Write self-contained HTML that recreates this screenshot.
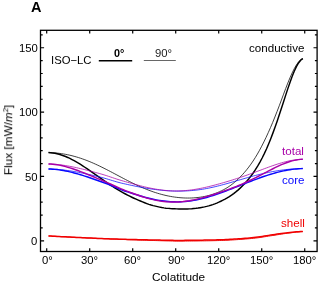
<!DOCTYPE html>
<html><head><meta charset="utf-8"><title>A</title>
<style>
html,body{margin:0;padding:0;background:#fff;}
body{width:327px;height:285px;position:relative;overflow:hidden;font-family:"Liberation Sans",sans-serif;}
.t{will-change:transform;position:absolute;white-space:nowrap;line-height:1;font-family:"Liberation Sans",sans-serif;}
</style></head><body>
<svg width="327" height="285" viewBox="0 0 327 285" style="position:absolute;left:0;top:0"><g fill="none" stroke-linejoin="round" stroke-linecap="butt"><path d="M48.50 152.59 L50.64 152.65 L52.77 152.76 L54.91 152.91 L57.05 153.10 L59.18 153.34 L61.32 153.63 L63.46 153.96 L65.60 154.34 L67.73 154.76 L69.87 155.23 L72.01 155.74 L74.14 156.30 L76.28 156.90 L78.42 157.55 L80.55 158.24 L82.69 158.97 L84.83 159.74 L86.97 160.55 L89.10 161.40 L91.24 162.29 L93.38 163.21 L95.51 164.16 L97.65 165.15 L99.79 166.17 L101.92 167.21 L104.06 168.27 L106.20 169.36 L108.34 170.46 L110.47 171.57 L112.61 172.70 L114.75 173.83 L116.88 174.96 L119.02 176.10 L121.16 177.23 L123.29 178.36 L125.43 179.47 L127.57 180.57 L129.71 181.66 L131.84 182.73 L133.98 183.77 L136.12 184.79 L138.25 185.79 L140.39 186.75 L142.53 187.68 L144.66 188.58 L146.80 189.45 L148.94 190.28 L151.07 191.07 L153.21 191.83 L155.35 192.54 L157.49 193.22 L159.62 193.85 L161.76 194.44 L163.90 194.99 L166.03 195.50 L168.17 195.96 L170.31 196.37 L172.44 196.75 L174.58 197.07 L176.72 197.35 L178.86 197.59 L180.99 197.78 L183.13 197.92 L185.27 198.01 L187.40 198.05 L189.54 198.04 L191.68 197.98 L193.81 197.86 L195.95 197.70 L198.09 197.47 L200.23 197.19 L202.36 196.86 L204.50 196.46 L206.64 195.99 L208.77 195.46 L210.91 194.87 L213.05 194.20 L215.18 193.45 L217.32 192.63 L219.46 191.72 L221.59 190.73 L223.73 189.64 L225.87 188.46 L227.97 187.17 L230.04 185.78 L232.10 184.27 L234.14 182.64 L236.18 180.87 L238.23 178.97 L240.30 176.92 L242.38 174.72 L244.50 172.34 L246.64 169.80 L248.78 167.07 L250.93 164.14 L253.08 161.01 L255.23 157.66 L257.39 154.08 L259.54 150.28 L261.70 146.23 L263.87 141.94 L266.06 137.41 L268.26 132.64 L270.47 127.64 L272.69 122.41 L274.89 117.00 L277.09 111.42 L279.27 105.72 L281.43 99.96 L283.57 94.20 L285.70 88.53 L287.84 83.03 L289.98 77.81 L292.12 72.99 L294.25 68.66 L296.39 64.95 L298.53 61.97 L300.66 59.79 L302.80 58.50" stroke="#000" stroke-width="0.75"/><path d="M48.50 152.57 L50.64 152.71 L52.77 152.96 L54.91 153.31 L57.05 153.76 L59.18 154.31 L61.32 154.96 L63.46 155.71 L65.60 156.54 L67.73 157.46 L69.87 158.46 L72.01 159.53 L74.14 160.68 L76.28 161.89 L78.42 163.16 L80.55 164.48 L82.69 165.85 L84.83 167.26 L86.97 168.70 L89.10 170.17 L91.24 171.66 L93.38 173.16 L95.51 174.68 L97.65 176.19 L99.79 177.70 L101.92 179.20 L104.06 180.69 L106.20 182.16 L108.34 183.61 L110.47 185.03 L112.61 186.42 L114.75 187.78 L116.88 189.11 L119.02 190.39 L121.16 191.64 L123.29 192.85 L125.43 194.01 L127.57 195.13 L129.71 196.21 L131.84 197.24 L133.98 198.23 L136.12 199.17 L138.25 200.11 L140.39 201.03 L142.53 201.93 L144.66 202.78 L146.80 203.58 L148.94 204.33 L151.07 204.99 L153.21 205.59 L155.35 206.13 L157.49 206.63 L159.62 207.09 L161.76 207.52 L163.90 207.88 L166.03 208.17 L168.17 208.40 L170.31 208.58 L172.44 208.71 L174.58 208.81 L176.72 208.89 L178.86 208.95 L180.99 209.01 L183.13 209.03 L185.27 209.01 L187.40 208.95 L189.54 208.85 L191.68 208.71 L193.81 208.52 L195.95 208.29 L198.09 208.01 L200.23 207.68 L202.36 207.31 L204.50 206.88 L206.62 206.40 L208.70 205.86 L210.74 205.26 L212.76 204.59 L214.77 203.87 L216.78 203.07 L218.81 202.20 L220.86 201.24 L222.94 200.21 L225.07 199.09 L227.21 197.87 L229.36 196.55 L231.51 195.12 L233.67 193.57 L235.83 191.90 L237.99 190.09 L240.16 188.14 L242.33 186.04 L244.50 183.76 L246.70 181.31 L248.92 178.67 L251.15 175.82 L253.38 172.75 L255.58 169.45 L257.77 165.90 L259.95 162.09 L262.14 158.00 L264.31 153.62 L266.47 148.95 L268.61 143.97 L270.75 138.69 L272.88 133.12 L275.02 127.26 L277.16 121.14 L279.29 114.80 L281.43 108.30 L283.57 101.71 L285.70 95.12 L287.84 88.64 L289.98 82.40 L292.12 76.56 L294.25 71.26 L296.39 66.67 L298.53 62.94 L300.66 60.20 L302.80 58.57" stroke="#000" stroke-width="1.45"/><path d="M48.50 169.01 L50.64 169.06 L52.77 169.14 L54.91 169.24 L57.05 169.38 L59.18 169.56 L61.32 169.76 L63.46 169.99 L65.60 170.25 L67.73 170.53 L69.87 170.84 L72.01 171.17 L74.14 171.53 L76.28 171.91 L78.42 172.30 L80.55 172.72 L82.69 173.15 L84.83 173.59 L86.97 174.05 L89.10 174.52 L91.24 174.99 L93.38 175.48 L95.51 175.97 L97.65 176.47 L99.79 176.98 L101.92 177.51 L104.06 178.08 L106.20 178.70 L108.34 179.34 L110.47 179.99 L112.61 180.65 L114.75 181.29 L116.88 181.92 L119.02 182.50 L121.16 183.05 L123.29 183.55 L125.43 184.03 L127.57 184.51 L129.71 184.97 L131.84 185.43 L133.98 185.88 L136.12 186.32 L138.25 186.74 L140.39 187.16 L142.53 187.56 L144.66 187.94 L146.80 188.30 L148.94 188.64 L151.07 188.96 L153.21 189.26 L155.35 189.54 L157.49 189.80 L159.62 190.04 L161.76 190.26 L163.90 190.47 L166.03 190.65 L168.17 190.80 L170.31 190.92 L172.44 191.02 L174.58 191.08 L176.72 191.11 L178.86 191.12 L180.99 191.09 L183.13 191.04 L185.27 190.96 L187.40 190.86 L189.54 190.73 L191.68 190.57 L193.81 190.38 L195.95 190.15 L198.09 189.89 L200.23 189.59 L202.36 189.27 L204.50 188.91 L206.64 188.52 L208.77 188.10 L210.91 187.65 L213.05 187.18 L215.18 186.69 L217.32 186.17 L219.46 185.63 L221.59 185.07 L223.73 184.49 L225.87 183.91 L228.01 183.30 L230.14 182.69 L232.28 182.07 L234.42 181.45 L236.55 180.82 L238.69 180.20 L240.83 179.57 L242.96 178.95 L245.10 178.33 L247.24 177.72 L249.38 177.11 L251.51 176.52 L253.65 175.95 L255.79 175.38 L257.92 174.83 L260.06 174.30 L262.20 173.79 L264.33 173.30 L266.47 172.82 L268.61 172.37 L270.75 171.94 L272.88 171.54 L275.02 171.16 L277.16 170.80 L279.29 170.47 L281.43 170.16 L283.57 169.88 L285.70 169.63 L287.84 169.40 L289.98 169.20 L292.12 169.02 L294.25 168.88 L296.39 168.76 L298.53 168.66 L300.66 168.60 L302.80 168.56" stroke="#0808ff" stroke-width="0.75"/><path d="M48.50 169.01 L50.64 169.08 L52.77 169.20 L54.91 169.37 L57.05 169.59 L59.18 169.86 L61.32 170.18 L63.46 170.54 L65.60 170.94 L67.73 171.38 L69.87 171.87 L72.01 172.39 L74.14 172.94 L76.28 173.52 L78.42 174.13 L80.55 174.77 L82.69 175.43 L84.83 176.11 L86.97 176.81 L89.10 177.52 L91.24 178.25 L93.38 178.99 L95.51 179.74 L97.65 180.49 L99.79 181.25 L101.92 182.01 L104.06 182.78 L106.20 183.56 L108.34 184.38 L110.47 185.24 L112.61 186.13 L114.75 187.03 L116.88 187.93 L119.02 188.81 L121.16 189.66 L123.29 190.46 L125.43 191.20 L127.57 191.92 L129.71 192.62 L131.84 193.31 L133.98 193.99 L136.12 194.66 L138.25 195.31 L140.39 195.94 L142.53 196.55 L144.66 197.14 L146.80 197.71 L148.94 198.25 L151.07 198.76 L153.21 199.24 L155.35 199.68 L157.49 200.09 L159.62 200.45 L161.76 200.77 L163.90 201.05 L166.03 201.29 L168.17 201.49 L170.31 201.65 L172.44 201.76 L174.58 201.83 L176.72 201.86 L178.86 201.84 L180.99 201.77 L183.13 201.65 L185.27 201.49 L187.40 201.28 L189.54 201.02 L191.68 200.71 L193.81 200.36 L195.95 199.97 L198.09 199.54 L200.23 199.07 L202.36 198.56 L204.50 198.01 L206.64 197.43 L208.77 196.82 L210.91 196.17 L213.05 195.49 L215.18 194.79 L217.32 194.06 L219.46 193.31 L221.59 192.54 L223.73 191.76 L225.87 190.96 L228.01 190.15 L230.14 189.34 L232.28 188.51 L234.42 187.68 L236.55 186.84 L238.69 186.00 L240.83 185.16 L242.96 184.31 L245.10 183.47 L247.24 182.63 L249.38 181.80 L251.51 180.97 L253.65 180.16 L255.79 179.35 L257.92 178.56 L260.06 177.78 L262.20 177.02 L264.33 176.29 L266.47 175.57 L268.61 174.88 L270.75 174.21 L272.88 173.57 L275.02 172.96 L277.16 172.38 L279.29 171.84 L281.43 171.33 L283.57 170.86 L285.70 170.43 L287.84 170.04 L289.98 169.69 L292.12 169.38 L294.25 169.13 L296.39 168.91 L298.53 168.75 L300.66 168.63 L302.80 168.57" stroke="#0808ff" stroke-width="1.45"/><path d="M48.50 164.00 L50.64 164.05 L52.77 164.15 L54.91 164.29 L57.05 164.48 L59.18 164.70 L61.32 164.95 L63.46 165.25 L65.60 165.58 L67.73 165.94 L69.87 166.32 L72.01 166.74 L74.14 167.18 L76.28 167.64 L78.42 168.13 L80.55 168.63 L82.69 169.14 L84.83 169.67 L86.97 170.21 L89.10 170.76 L91.24 171.32 L93.38 171.89 L95.51 172.46 L97.65 173.04 L99.79 173.63 L101.92 174.23 L104.06 174.88 L106.20 175.56 L108.34 176.26 L110.47 176.97 L112.61 177.69 L114.75 178.41 L116.88 179.12 L119.02 179.80 L121.16 180.45 L123.29 181.07 L125.43 181.68 L127.57 182.29 L129.71 182.89 L131.84 183.49 L133.98 184.09 L136.12 184.67 L138.25 185.24 L140.39 185.81 L142.53 186.35 L144.66 186.87 L146.80 187.36 L148.94 187.83 L151.07 188.27 L153.21 188.68 L155.35 189.06 L157.49 189.41 L159.62 189.73 L161.76 190.01 L163.90 190.27 L166.03 190.50 L168.17 190.68 L170.31 190.82 L172.44 190.92 L174.58 190.97 L176.72 190.98 L178.86 190.94 L180.99 190.86 L183.13 190.74 L185.27 190.58 L187.40 190.38 L189.54 190.15 L191.68 189.88 L193.81 189.57 L195.95 189.23 L198.09 188.86 L200.23 188.45 L202.36 188.02 L204.50 187.56 L206.64 187.08 L208.77 186.58 L210.91 186.06 L213.05 185.52 L215.18 184.96 L217.32 184.39 L219.46 183.80 L221.59 183.20 L223.73 182.59 L225.87 181.96 L228.01 181.32 L230.14 180.67 L232.28 180.01 L234.42 179.34 L236.55 178.65 L238.69 177.95 L240.83 177.24 L242.96 176.51 L245.10 175.77 L247.24 175.02 L249.38 174.26 L251.51 173.49 L253.65 172.71 L255.79 171.92 L257.92 171.13 L260.06 170.33 L262.20 169.53 L264.33 168.73 L266.47 167.94 L268.61 167.16 L270.75 166.39 L272.88 165.63 L275.02 164.90 L277.16 164.19 L279.29 163.51 L281.43 162.87 L283.57 162.27 L285.70 161.70 L287.84 161.19 L289.98 160.73 L292.12 160.32 L294.25 159.97 L296.39 159.68 L298.53 159.45 L300.66 159.29 L302.80 159.20" stroke="#a800a8" stroke-width="0.75"/><path d="M48.50 163.98 L50.64 164.07 L52.77 164.24 L54.91 164.48 L57.05 164.78 L59.18 165.14 L61.32 165.57 L63.46 166.06 L65.60 166.60 L67.73 167.20 L69.87 167.84 L72.01 168.52 L74.14 169.24 L76.28 170.00 L78.42 170.78 L80.55 171.60 L82.69 172.43 L84.83 173.28 L86.97 174.14 L89.10 175.01 L91.24 175.90 L93.38 176.78 L95.51 177.67 L97.65 178.56 L99.79 179.45 L101.92 180.34 L104.06 181.23 L106.20 182.11 L108.34 183.04 L110.47 184.00 L112.61 184.98 L114.75 185.97 L116.88 186.95 L119.02 187.92 L121.16 188.86 L123.29 189.75 L125.43 190.60 L127.57 191.42 L129.71 192.22 L131.84 193.02 L133.98 193.79 L136.12 194.55 L138.25 195.29 L140.39 196.01 L142.53 196.71 L144.66 197.38 L146.80 198.01 L148.94 198.60 L151.07 199.15 L153.21 199.66 L155.35 200.12 L157.49 200.53 L159.62 200.89 L161.76 201.21 L163.90 201.47 L166.03 201.69 L168.17 201.86 L170.31 201.99 L172.44 202.06 L174.58 202.07 L176.72 202.03 L178.86 201.93 L180.99 201.78 L183.13 201.58 L185.27 201.32 L187.40 201.02 L189.54 200.68 L191.68 200.29 L193.81 199.86 L195.95 199.40 L198.09 198.90 L200.23 198.38 L202.36 197.83 L204.50 197.25 L206.64 196.65 L208.77 196.03 L210.91 195.38 L213.05 194.72 L215.18 194.05 L217.32 193.35 L219.46 192.65 L221.59 191.92 L223.73 191.18 L225.87 190.43 L228.01 189.65 L230.14 188.86 L232.28 188.05 L234.42 187.22 L236.55 186.37 L238.69 185.50 L240.83 184.60 L242.96 183.67 L245.10 182.72 L247.24 181.75 L249.38 180.74 L251.51 179.72 L253.65 178.67 L255.79 177.60 L257.92 176.51 L260.06 175.41 L262.20 174.30 L264.33 173.18 L266.47 172.06 L268.61 170.94 L270.75 169.83 L272.88 168.74 L275.02 167.68 L277.16 166.65 L279.29 165.65 L281.43 164.70 L283.57 163.81 L285.70 162.97 L287.84 162.21 L289.98 161.52 L292.12 160.91 L294.25 160.38 L296.39 159.95 L298.53 159.61 L300.66 159.36 L302.80 159.22" stroke="#a800a8" stroke-width="1.45"/><path d="M48.50 235.91 L50.64 236.04 L52.77 236.16 L54.91 236.28 L57.05 236.40 L59.18 236.52 L61.32 236.64 L63.46 236.75 L65.60 236.86 L67.73 236.97 L69.87 237.08 L72.01 237.19 L74.14 237.30 L76.28 237.41 L78.42 237.51 L80.55 237.62 L82.69 237.72 L84.83 237.82 L86.97 237.91 L89.10 238.01 L91.24 238.10 L93.38 238.20 L95.51 238.29 L97.65 238.38 L99.79 238.47 L101.92 238.56 L104.06 238.65 L106.20 238.75 L108.34 238.84 L110.47 238.94 L112.61 239.03 L114.75 239.13 L116.88 239.22 L119.02 239.31 L121.16 239.40 L123.29 239.49 L125.43 239.57 L127.57 239.65 L129.71 239.74 L131.84 239.82 L133.98 239.89 L136.12 239.97 L138.25 240.04 L140.39 240.11 L142.53 240.18 L144.66 240.25 L146.80 240.31 L148.94 240.37 L151.07 240.43 L153.21 240.49 L155.35 240.56 L157.49 240.62 L159.62 240.69 L161.76 240.76 L163.90 240.82 L166.03 240.88 L168.17 240.93 L170.31 240.98 L172.44 241.02 L174.58 241.05 L176.72 241.08 L178.86 241.09 L180.99 241.09 L183.13 241.09 L185.27 241.08 L187.40 241.07 L189.54 241.06 L191.68 241.04 L193.81 241.01 L195.95 240.99 L198.09 240.96 L200.23 240.92 L202.36 240.89 L204.50 240.86 L206.64 240.82 L208.77 240.79 L210.91 240.74 L213.05 240.70 L215.18 240.65 L217.32 240.59 L219.46 240.53 L221.59 240.47 L223.73 240.39 L225.87 240.32 L228.01 240.22 L230.14 240.10 L232.28 239.97 L234.42 239.83 L236.55 239.68 L238.69 239.53 L240.83 239.38 L242.96 239.22 L245.10 239.06 L247.24 238.88 L249.38 238.70 L251.51 238.50 L253.65 238.29 L255.79 238.06 L257.92 237.79 L260.06 237.49 L262.20 237.16 L264.33 236.82 L266.47 236.47 L268.61 236.13 L270.75 235.80 L272.88 235.48 L275.02 235.15 L277.16 234.81 L279.29 234.46 L281.43 234.12 L283.57 233.78 L285.70 233.47 L287.84 233.17 L289.98 232.91 L292.12 232.65 L294.25 232.40 L296.39 232.16 L298.53 231.93 L300.66 231.71 L302.80 231.51" stroke="#f00000" stroke-width="0.9"/><path d="M48.50 235.91 L50.64 236.04 L52.77 236.16 L54.91 236.28 L57.05 236.40 L59.18 236.52 L61.32 236.64 L63.46 236.75 L65.60 236.86 L67.73 236.97 L69.87 237.08 L72.01 237.19 L74.14 237.30 L76.28 237.41 L78.42 237.51 L80.55 237.62 L82.69 237.72 L84.83 237.82 L86.97 237.91 L89.10 238.01 L91.24 238.10 L93.38 238.20 L95.51 238.29 L97.65 238.38 L99.79 238.47 L101.92 238.56 L104.06 238.65 L106.20 238.73 L108.34 238.81 L110.47 238.89 L112.61 238.97 L114.75 239.04 L116.88 239.11 L119.02 239.18 L121.16 239.24 L123.29 239.30 L125.43 239.36 L127.57 239.41 L129.71 239.46 L131.84 239.51 L133.98 239.56 L136.12 239.61 L138.25 239.66 L140.39 239.70 L142.53 239.75 L144.66 239.79 L146.80 239.84 L148.94 239.88 L151.07 239.92 L153.21 239.97 L155.35 240.02 L157.49 240.07 L159.62 240.12 L161.76 240.17 L163.90 240.22 L166.03 240.27 L168.17 240.31 L170.31 240.34 L172.44 240.37 L174.58 240.39 L176.72 240.40 L178.86 240.40 L180.99 240.39 L183.13 240.38 L185.27 240.37 L187.40 240.35 L189.54 240.32 L191.68 240.30 L193.81 240.27 L195.95 240.24 L198.09 240.21 L200.23 240.17 L202.36 240.14 L204.50 240.11 L206.64 240.07 L208.77 240.04 L210.91 239.99 L213.05 239.95 L215.18 239.90 L217.32 239.84 L219.46 239.78 L221.59 239.72 L223.73 239.64 L225.87 239.57 L228.01 239.47 L230.14 239.35 L232.28 239.22 L234.42 239.08 L236.55 238.93 L238.69 238.78 L240.83 238.63 L242.96 238.47 L245.10 238.31 L247.24 238.13 L249.38 237.95 L251.51 237.75 L253.65 237.54 L255.79 237.31 L257.92 237.04 L260.06 236.74 L262.20 236.41 L264.33 236.07 L266.47 235.72 L268.61 235.38 L270.75 235.05 L272.88 234.74 L275.02 234.43 L277.16 234.11 L279.29 233.80 L281.43 233.49 L283.57 233.20 L285.70 232.93 L287.84 232.68 L289.98 232.46 L292.12 232.25 L294.25 232.05 L296.39 231.86 L298.53 231.69 L300.66 231.54 L302.80 231.40" stroke="#f00000" stroke-width="1.5"/></g><rect x="40.5" y="30.3" width="276.6" height="221.2" fill="none" stroke="#000" stroke-width="1.3"/><path d="M46.70 251.5 v-3.2 M46.70 30.3 v3.2 M89.71 251.5 v-3.2 M89.71 30.3 v3.2 M132.71 251.5 v-3.2 M132.71 30.3 v3.2 M175.71 251.5 v-3.2 M175.71 30.3 v3.2 M218.72 251.5 v-3.2 M218.72 30.3 v3.2 M261.73 251.5 v-3.2 M261.73 30.3 v3.2 M304.73 251.5 v-3.2 M304.73 30.3 v3.2 M40.5 240.80 h3.6 M317.1 240.80 h-3.6 M40.5 227.93 h2.2 M317.1 227.93 h-2.2 M40.5 215.06 h2.2 M317.1 215.06 h-2.2 M40.5 202.19 h2.2 M317.1 202.19 h-2.2 M40.5 189.32 h2.2 M317.1 189.32 h-2.2 M40.5 176.45 h3.6 M317.1 176.45 h-3.6 M40.5 163.58 h2.2 M317.1 163.58 h-2.2 M40.5 150.71 h2.2 M317.1 150.71 h-2.2 M40.5 137.84 h2.2 M317.1 137.84 h-2.2 M40.5 124.97 h2.2 M317.1 124.97 h-2.2 M40.5 112.10 h3.6 M317.1 112.10 h-3.6 M40.5 99.23 h2.2 M317.1 99.23 h-2.2 M40.5 86.36 h2.2 M317.1 86.36 h-2.2 M40.5 73.49 h2.2 M317.1 73.49 h-2.2 M40.5 60.62 h2.2 M317.1 60.62 h-2.2 M40.5 47.75 h3.6 M317.1 47.75 h-3.6 M40.5 34.88 h2.2 M317.1 34.88 h-2.2" stroke="#000" stroke-width="1.2" fill="none"/><path d="M98.8 60.8 H132.2" stroke="#000" stroke-width="1.5"/><path d="M143.8 60.5 H175.8" stroke="#000" stroke-width="0.6"/></svg>
<div class="t" style="left:31px;top:0px;font-size:14.5px;color:#000;font-weight:bold;">A</div><div class="t" style="left:42px;top:255px;font-size:11.3px;color:#000;">0°</div><div class="t" style="left:81px;top:255px;font-size:11.3px;color:#000;">30°</div><div class="t" style="left:124px;top:255px;font-size:11.3px;color:#000;">60°</div><div class="t" style="left:168px;top:255px;font-size:11.3px;color:#000;">90°</div><div class="t" style="left:207px;top:255px;font-size:11.3px;color:#000;">120°</div><div class="t" style="left:250px;top:255px;font-size:11.3px;color:#000;">150°</div><div class="t" style="left:293px;top:255px;font-size:11.3px;color:#000;">180°</div><div class="t" style="left:31px;top:236px;font-size:11.3px;color:#000;">0</div><div class="t" style="left:25px;top:172px;font-size:11.3px;color:#000;">50</div><div class="t" style="left:19px;top:107px;font-size:11.3px;color:#000;">100</div><div class="t" style="left:19px;top:43px;font-size:11.3px;color:#000;">150</div><div class="t" style="left:152px;top:272px;font-size:11.8px;color:#000;">Colatitude</div><div class="t" style="left:51px;top:55px;font-size:11.3px;color:#000;">ISO−LC</div><div class="t" style="left:114px;top:48px;font-size:10.8px;color:#000;font-weight:bold;">0°</div><div class="t" style="left:155px;top:48px;font-size:11.3px;color:#1a1a1a;">90°</div><div class="t" style="left:249px;top:42px;font-size:11.6px;color:#000;">conductive</div><div class="t" style="left:282px;top:145px;font-size:11.6px;color:#a800a8;">total</div><div class="t" style="left:282px;top:174px;font-size:11.6px;color:#0808ff;">core</div><div class="t" style="left:281px;top:217px;font-size:11.6px;color:#f00000;">shell</div><div class="t" style="left:15.4px;top:140px;font-size:11.8px;transform:translate(-50%,-100%) rotate(-90deg);transform-origin:50% 100%;">Flux [mW/<i>m</i><span style="font-size:7.5px;position:relative;top:-4.5px">2</span>]</div>
</body></html>
